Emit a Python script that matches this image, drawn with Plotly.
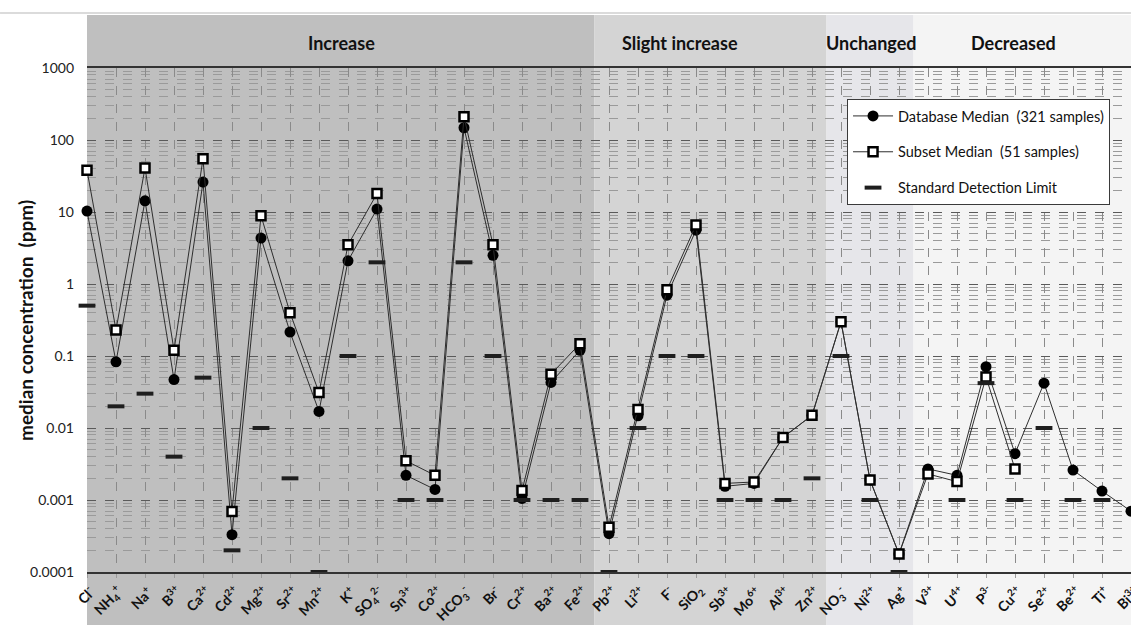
import plotly.graph_objects as go

# Ions along the x axis (HTML sub/superscripts for charges)
ions = [
    "Cl<sup>-</sup>", "NH<sub>4</sub><sup>+</sup>", "Na<sup>+</sup>", "B<sup>3+</sup>",
    "Ca<sup>2+</sup>", "Cd<sup>2+</sup>", "Mg<sup>2+</sup>", "Sr<sup>2+</sup>",
    "Mn<sup>2+</sup>", "K<sup>+</sup>", "SO<sub>4</sub><sup>2-</sup>", "Sn<sup>3+</sup>",
    "Co<sup>2+</sup>", "HCO<sub>3</sub><sup>-</sup>", "Br<sup>-</sup>", "Cr<sup>2+</sup>",
    "Ba<sup>2+</sup>", "Fe<sup>2+</sup>", "Pb<sup>2+</sup>", "Li<sup>2+</sup>",
    "F<sup>-</sup>", "SiO<sub>2</sub>", "Sb<sup>3+</sup>", "Mo<sup>6+</sup>",
    "Al<sup>3+</sup>", "Zn<sup>2+</sup>", "NO<sub>3</sub><sup>-</sup>", "Ni<sup>2+</sup>",
    "Ag<sup>+</sup>", "V<sup>3+</sup>", "U<sup>4+</sup>", "P<sup>3-</sup>",
    "Cu<sup>2+</sup>", "Se<sup>2+</sup>", "Be<sup>2+</sup>", "Ti<sup>+</sup>",
    "Bi<sup>3+</sup>",
]

# Median concentrations in ppm
db_median = [
    10.3, 0.083, 14.3, 0.047, 26, 0.00033, 4.35, 0.215, 0.017, 2.1,
    11, 0.0022, 0.0014, 148, 2.5, 0.00105, 0.043, 0.12, 0.00034, 0.0148,
    0.70, 5.6, 0.00155, 0.0017, 0.0074, 0.015, 0.30, 0.0019, 0.000178, 0.0027,
    0.0022, 0.071, 0.0044, 0.042, 0.0026, 0.00133, 0.0007,
]
subset_median = [
    38, 0.23, 41, 0.12, 55, 0.00069, 8.9, 0.40, 0.031, 3.5,
    18, 0.0035, 0.0022, 211, 3.5, 0.00135, 0.056, 0.148, 0.00042, 0.018,
    0.83, 6.6, 0.0017, 0.00178, 0.0074, 0.015, 0.30, 0.0019, 0.000178, 0.0023,
    0.0018, 0.051, 0.0027, None, None, None, None,
]
detection_limit = [
    0.5, 0.02, 0.03, 0.004, 0.05, 0.0002, 0.01, 0.002, 0.0001, 0.1,
    2, 0.001, 0.001, 2, 0.1, 0.001, 0.001, 0.001, 0.0001, 0.01,
    0.1, 0.1, 0.001, 0.001, 0.001, 0.002, 0.1, 0.001, 0.0001, None,
    0.001, 0.042, 0.001, 0.01, 0.001, 0.001, None,
]

y_tickvals = [1000, 100, 10, 1, 0.1, 0.01, 0.001, 0.0001]
y_ticktext = ["1000", "100", "10", "1", "0.1", "0.01", "0.001", "0.0001"]

# Trend groups: (label, first ion index, last ion index, fill, label x position)
groups = [
    ("Increase", 0, 17, "#bfbfbf", 8.76),
    ("Slight increase", 18, 25, "#d4d4d4", 20.45),
    ("Unchanged", 26, 28, "#e6e6ea", 27.05),
    ("Decreased", 29, 36, "#f4f4f4", 31.95),
]

FONT = "Lato"

fig = go.Figure()

fig.add_trace(go.Scatter(
    x=ions, y=db_median, mode="lines+markers",
    name="Database Median  (321 samples)",
    line=dict(color="#2e2e2e", width=1),
    marker=dict(symbol="circle", size=11, color="#000000"),
    cliponaxis=False, legendgroup="db",
))
fig.add_trace(go.Scatter(
    x=ions, y=subset_median, mode="lines+markers",
    name="Subset Median  (51 samples)",
    line=dict(color="#2e2e2e", width=1),
    marker=dict(symbol="square", size=9, color="#ffffff",
                line=dict(color="#000000", width=2.5)),
    connectgaps=False, cliponaxis=False, legendgroup="sub",
))
fig.add_trace(go.Scatter(
    x=ions, y=detection_limit, mode="markers",
    name="Standard Detection Limit",
    marker=dict(symbol="line-ew", size=12, color="#1e1e1e",
                line=dict(color="#1e1e1e", width=4)),
    cliponaxis=False, legendgroup="dl",
))

shapes = []
annotations = []
for label, i0, i1, fill, lx in groups:
    x0 = i0 - 0.5 if i0 > 0 else -0.03
    x1 = i1 + 0.5
    shapes.append(dict(
        type="rect", xref="x", yref="paper", x0=x0, x1=x1,
        y0=-0.106, y1=1.105, fillcolor=fill, line=dict(width=0), layer="below",
    ))
    annotations.append(dict(
        text="<b>" + label + "</b>", x=lx, y=1.049, xref="x", yref="paper",
        showarrow=False, font=dict(family=FONT, size=18, color="#111111"),
        xanchor="center", yanchor="middle",
    ))

# slanted ion labels under each category position
for ion in ions:
    annotations.append(dict(
        text="<b>" + ion + "</b>", x=ion, y=0, xref="x", yref="paper",
        textangle=-45, showarrow=False,
        xanchor="right", yanchor="top", xshift=14, yshift=-7,
        font=dict(family=FONT, size=14, color="#111111"),
    ))

# thin rule above the group header
shapes.append(dict(
    type="line", xref="paper", yref="paper", x0=-0.0833, x1=1.0, y0=1.109, y1=1.109,
    line=dict(color="#cfcfcf", width=1.5), layer="below",
))

annotations.append(dict(
    text="<b>median concentration  (ppm)</b>", x=-0.0594, y=0.5,
    xref="paper", yref="paper", textangle=-90, showarrow=False,
    font=dict(family=FONT, size=19, color="#111111"),
    xanchor="center", yanchor="middle",
))

fig.update_layout(
    width=1131, height=625,
    margin=dict(l=87, r=0, t=68, b=53, pad=0),
    paper_bgcolor="#ffffff", plot_bgcolor="rgba(0,0,0,0)",
    font=dict(family=FONT, color="#222222"),
    shapes=shapes, annotations=annotations,
    showlegend=True,
    legend=dict(
        x=0.728, y=0.9385, xanchor="left", yanchor="top",
        bgcolor="#ffffff", bordercolor="#3a3a3a", borderwidth=1,
        font=dict(family=FONT, size=14.5, color="#111111"),
        traceorder="grouped", tracegroupgap=14,
        itemwidth=40,
    ),
    xaxis=dict(
        type="category", range=[0, len(ions) - 1],
        showticklabels=False, automargin=False,
        showgrid=True, gridcolor="#8a8a8a", griddash="dash", gridwidth=1,
        showline=True, linecolor="#333333", linewidth=1.5, mirror=True,
        ticks="outside", ticklen=4, tickcolor="#9a9a9a",
        zeroline=False,
    ),
    yaxis=dict(
        type="log", range=[-4, 3], automargin=False,
        tickvals=y_tickvals, ticktext=y_ticktext,
        tickfont=dict(family=FONT, size=14, color="#222222"),
        ticklabelstandoff=12,
        showgrid=True, gridcolor="#5a5a5a", griddash="dash", gridwidth=1,
        minor=dict(dtick="D1", showgrid=True, gridcolor="#9a9a9a",
                   griddash="dash", gridwidth=0.8),
        showline=False, zeroline=False,
    ),
)

fig.write_html("out.html")
